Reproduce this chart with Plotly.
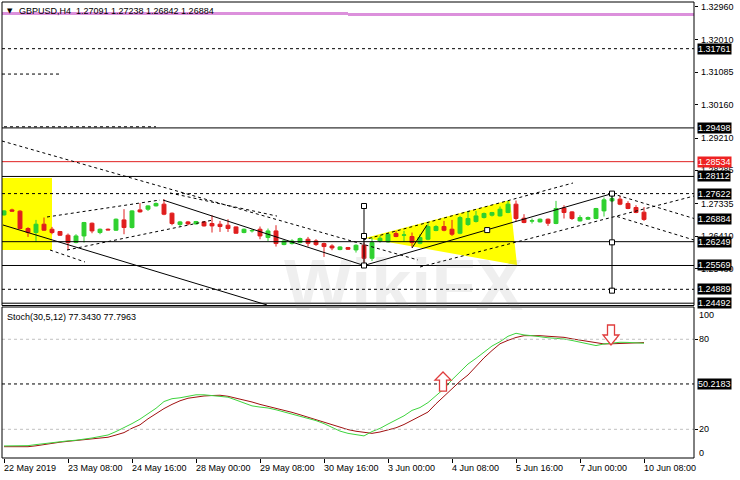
import plotly.graph_objects as go

# ---------------- data ----------------
bars = list(range(81))
open_ = [1.27014,1.27157,1.27120,1.26625,1.26510,1.26748,1.26605,1.26539,1.26433,1.26224,
         1.26413,1.26776,1.26510,1.26605,1.26576,1.26871,1.26653,1.27157,1.27177,1.27271,
         1.27320,1.27062,1.26739,1.26814,1.26756,1.26814,1.26768,1.26748,1.26719,1.26671,
         1.26510,1.26556,1.26605,1.26367,1.26556,1.26167,1.26196,1.26224,1.26319,1.26270,
         1.26196,1.26127,1.26024,1.26081,1.26013,1.26147,1.25775,1.26270,1.26242,1.26482,
         1.26433,1.26396,1.26204,1.26319,1.26568,1.26682,1.26605,1.26490,1.26739,1.26825,
         1.26939,1.27005,1.26985,1.27082,1.27320,1.26919,1.26836,1.26814,1.26891,1.26768,
         1.27214,1.27100,1.26842,1.26891,1.26911,1.27128,1.27414,1.27463,1.27340,1.27225,
         1.27091]
high_ = [1.27148,1.27191,1.27148,1.26662,1.26871,1.26939,1.26671,1.26556,1.26482,1.26462,
         1.26814,1.26796,1.26625,1.26625,1.26911,1.27177,1.27148,1.27350,1.27291,1.27368,
         1.27463,1.27082,1.26842,1.26842,1.26842,1.26833,1.27005,1.26842,1.26891,1.26682,
         1.26625,1.26605,1.26682,1.26625,1.26719,1.26290,1.26319,1.26367,1.26385,1.26319,
         1.26224,1.26175,1.26119,1.26099,1.26175,1.26224,1.26367,1.26413,1.26482,1.26556,
         1.26556,1.26510,1.26462,1.26776,1.26719,1.26842,1.26871,1.26985,1.27128,1.27128,
         1.27082,1.27100,1.27254,1.27414,1.27425,1.27034,1.26911,1.26911,1.26911,1.27414,
         1.27291,1.27120,1.27005,1.26968,1.27214,1.27511,1.27622,1.27557,1.27405,1.27291,
         1.27238]
low_ = [1.26990,1.27105,1.26605,1.26385,1.26242,1.26556,1.26462,1.26413,1.26013,1.26204,
        1.26224,1.26490,1.26462,1.26576,1.26556,1.26462,1.26625,1.27082,1.27128,1.27254,
        1.27005,1.26719,1.26682,1.26719,1.26739,1.26682,1.26510,1.26528,1.26528,1.26482,
        1.26490,1.26510,1.26319,1.26270,1.26110,1.26147,1.26167,1.26204,1.26110,1.26127,
        1.25813,1.26005,1.26005,1.26013,1.25938,1.25569,1.25698,1.26224,1.26224,1.26376,
        1.26242,1.26081,1.26175,1.26290,1.26547,1.26547,1.26413,1.26462,1.26699,1.26796,
        1.26911,1.26968,1.26968,1.27062,1.26825,1.26776,1.26768,1.26796,1.26699,1.26748,
        1.26911,1.26871,1.26825,1.26871,1.26891,1.26968,1.27377,1.27291,1.27177,1.27062,
        1.26842]
close_ = [1.27128,1.27120,1.26625,1.26510,1.26748,1.26576,1.26510,1.26433,1.26224,1.26413,
          1.26796,1.26556,1.26605,1.26585,1.26891,1.26653,1.27128,1.27100,1.27271,1.27340,
          1.27034,1.26768,1.26814,1.26756,1.26825,1.26699,1.26699,1.26682,1.26625,1.26490,
          1.26605,1.26568,1.26413,1.26556,1.26196,1.26270,1.26270,1.26339,1.26204,1.26167,
          1.26110,1.26070,1.26099,1.26033,1.26147,1.25775,1.26224,1.26347,1.26462,1.26396,
          1.26442,1.26224,1.26367,1.26682,1.26682,1.26576,1.26462,1.26939,1.26911,1.26985,
          1.27054,1.27082,1.27177,1.27320,1.26911,1.26796,1.26848,1.26891,1.26776,1.27197,
          1.27082,1.26911,1.26939,1.26939,1.27197,1.27443,1.27483,1.27320,1.27197,1.27082,
          1.26884]

stoch_main = [8.9,9.0,9.0,9.1,9.8,10.5,11.4,12.0,12.3,12.7,
              13.3,14.2,15.2,16.2,18.5,21.0,23.8,26.8,30.5,34.0,
              38.5,40.4,41.0,42.0,43.0,43.0,42.5,42.1,41.4,39.5,
              37.6,35.6,34.8,34.2,33.0,31.6,30.2,28.8,27.3,25.8,
              23.8,21.3,18.8,17.3,16.5,15.6,18.5,20.6,23.5,26.3,
              29.0,32.6,34.5,37.8,42.5,47.0,53.0,58.5,63.5,67.3,
              71.5,75.5,78.4,82.0,84.0,82.9,82.4,81.5,81.0,80.6,
              80.2,79.2,78.0,76.8,75.8,76.9,77.6,78.0,77.9,77.8,
              77.343]
stoch_signal = [8.4,8.4,8.4,8.4,9.0,9.9,10.8,11.4,12.0,12.5,
                13.0,13.5,14.1,14.7,16.2,17.8,20.7,23.0,27.0,30.5,
                33.8,36.6,39.0,40.7,41.5,42.2,42.5,42.7,42.0,40.8,
                39.6,38.2,36.6,35.4,34.1,32.8,31.3,29.7,28.0,26.3,
                24.6,22.9,21.3,19.8,18.7,17.8,17.3,18.2,19.4,21.0,
                23.2,26.0,28.9,31.5,37.0,42.0,47.0,52.0,56.2,62.0,
                67.6,72.5,77.0,79.3,81.2,82.4,82.5,82.4,82.0,81.6,
                81.3,80.3,79.4,78.6,77.9,76.9,77.0,77.3,77.6,77.8,
                77.7963]

tick_bars = [0, 8, 16, 24, 32, 40, 48, 56, 64, 72, 80]
tick_text = ["22 May 2019", "23 May 08:00", "24 May 16:00", "28 May 00:00", "29 May 08:00",
             "30 May 16:00", "3 Jun 00:00", "4 Jun 08:00", "5 Jun 16:00", "7 Jun 00:00", "10 Jun 08:00"]

price_ticks = [1.32960, 1.32010, 1.31085, 1.30160, 1.29210, 1.28285, 1.27335, 1.26410, 1.25480]
solid_levels = [1.29498, 1.28112, 1.26249, 1.25569, 1.24492]
dashed_levels = [1.31761, 1.27622, 1.24889]
red_level = 1.28534
box_levels = [1.31761, 1.29498, 1.28112, 1.27622, 1.26884, 1.26249, 1.25569, 1.24889, 1.24492]
pink_levels = [1.32766, 1.32737]
stoch_level = 50.2183

# drawn objects (bar index, price)
dashed_trend = [
    (-0.25, 1.29124, 51.75, 1.25726),
    (5.75, 1.26011, 10.125, 1.25669),
    (5.375, 1.26954, 19.5, 1.27439),
    (7.875, 1.26011, 26.125, 1.26868),
    (20.75, 1.27640, 34.125, 1.26980),
    (44.875, 1.26297, 71.125, 1.27925),
    (52.0, 1.25526, 86.25, 1.27553),
    (76.0, 1.27622, 86.25, 1.26911),
    (76.625, 1.26968, 86.25, 1.26297),
    (-0.25, 1.31036, 7.0, 1.31036),
    (0.0, 1.29530, 19.0, 1.29530),
]
solid_trend = [
    (-0.125, 1.26725, 32.875, 1.24441),
    (19.875, 1.27439, 45.0, 1.25569),
    (45.0, 1.25569, 76.0, 1.27622),
    (51.0, 1.26068, 52.875, 1.26725),
    (45.0, 1.27268, 45.0, 1.25569),
    (76.0, 1.27622, 76.0, 1.24850),
]
marker_boxes = [(45.0, 1.27268), (45.0, 1.26411), (45.0, 1.25569), (60.4, 1.26580),
                (76.0, 1.27622), (76.0, 1.26230), (76.0, 1.24850)]
yellow_rect = (-0.25, 1.28068, 6.0, 1.26011)
yellow_tri = [(45.125, 1.26354), (63.25, 1.27439), (64.125, 1.25583)]

# ---------------- figure ----------------
GREEN = "#2fd12f"
RED = "#e01e1e"
FONT = "Liberation Sans, Arial, sans-serif"
MAIN_DOM = [0.3344, 1.0]
STO_DOM = [0.0, 0.3311]

fig = go.Figure()
fig.add_trace(go.Candlestick(
    x=bars, open=open_, high=high_, low=low_, close=close_,
    increasing=dict(line=dict(color=GREEN, width=1), fillcolor=GREEN),
    decreasing=dict(line=dict(color=RED, width=1), fillcolor=RED),
    whiskerwidth=0, showlegend=False, hoverinfo="skip", xaxis="x", yaxis="y"))
fig.add_trace(go.Scatter(x=bars, y=stoch_signal, mode="lines", line=dict(color="#a01010", width=1),
                         showlegend=False, hoverinfo="skip", xaxis="x", yaxis="y2"))
fig.add_trace(go.Scatter(x=bars, y=stoch_main, mode="lines", line=dict(color="#3ed43e", width=1),
                         showlegend=False, hoverinfo="skip", xaxis="x", yaxis="y2"))

shapes = []
x0, y0, x1, y1 = yellow_rect
shapes.append(dict(type="rect", xref="x", yref="y", x0=x0, x1=x1, y0=y0, y1=y1,
                   fillcolor="#ffff00", line=dict(width=0), layer="below"))
p = yellow_tri
shapes.append(dict(type="path", xref="x", yref="y",
                   path=f"M {p[0][0]},{p[0][1]} L {p[1][0]},{p[1][1]} L {p[2][0]},{p[2][1]} Z",
                   fillcolor="#ffff00", line=dict(width=0), layer="below"))

def hline(level, color="black", dash="solid", width=1, yref="y"):
    return dict(type="line", xref="paper", yref=yref, x0=0, x1=1, y0=level, y1=level,
                line=dict(color=color, width=width, dash=dash), layer="above")

shapes.append(dict(type="line", xref="paper", yref="y", x0=0, x1=0.5, y0=pink_levels[0], y1=pink_levels[0],
                   line=dict(color="#dc90dc", width=3)))
shapes.append(dict(type="line", xref="paper", yref="y", x0=0.5, x1=1, y0=pink_levels[1], y1=pink_levels[1],
                   line=dict(color="#dc90dc", width=3)))
for lv in solid_levels:
    shapes.append(hline(lv))
for lv in dashed_levels:
    shapes.append(hline(lv, dash="3px,3px"))
shapes.append(hline(red_level, color="#e02020"))
for (a, b, c, d) in dashed_trend:
    shapes.append(dict(type="line", xref="x", yref="y", x0=a, y0=b, x1=c, y1=d,
                       line=dict(color="black", width=1, dash="3px,3px")))
for (a, b, c, d) in solid_trend:
    shapes.append(dict(type="line", xref="x", yref="y", x0=a, y0=b, x1=c, y1=d,
                       line=dict(color="black", width=1)))
for (a, b) in marker_boxes:
    shapes.append(dict(type="rect", xref="x", yref="y", xsizemode="pixel", ysizemode="pixel",
                       xanchor=a, yanchor=b, x0=-2.5, x1=2.5, y0=-2.5, y1=2.5,
                       fillcolor="white", line=dict(color="black", width=1)))
shapes.append(hline(80, color="#c0c0c0", dash="3px,3px", yref="y2"))
shapes.append(hline(20, color="#c0c0c0", dash="3px,3px", yref="y2"))
shapes.append(hline(stoch_level, dash="3px,3px", yref="y2"))
shapes.append(dict(type="path", xref="x", yref="y2", xsizemode="pixel", ysizemode="pixel",
                   xanchor=54.875, yanchor=45.5,
                   path="M -3.5,0 L 3.5,0 L 3.5,11 L 8,11 L 0,19 L -8,11 L -3.5,11 Z",
                   fillcolor="white", line=dict(color="#e03c3c", width=1.3)))
shapes.append(dict(type="path", xref="x", yref="y2", xsizemode="pixel", ysizemode="pixel",
                   xanchor=75.875, yanchor=89.5,
                   path="M -3.5,0 L 3.5,0 L 3.5,-10 L 8,-10 L 0,-20 L -8,-10 L -3.5,-10 Z",
                   fillcolor="white", line=dict(color="#e03c3c", width=1.3)))
shapes.append(dict(type="rect", xref="paper", yref="paper", x0=0, x1=1, y0=MAIN_DOM[0], y1=MAIN_DOM[1],
                   line=dict(color="black", width=1)))
shapes.append(dict(type="rect", xref="paper", yref="paper", x0=0, x1=1, y0=STO_DOM[0], y1=STO_DOM[1],
                   line=dict(color="black", width=1)))

ann = []
ann.append(dict(xref="paper", yref="paper", x=0.58, y=0.38, text="<b>WikiFX</b>", showarrow=False,
                font=dict(family=FONT, size=72, color="rgba(130,130,130,0.13)")))
ann.append(dict(xref="paper", yref="paper", x=0.004, y=0.980, xanchor="left", yanchor="middle",
                text="▼", showarrow=False, font=dict(family="DejaVu Sans", size=7, color="black")))
ann.append(dict(xref="paper", yref="paper", x=0.0215, y=0.980, xanchor="left", yanchor="middle",
                text="GBPUSD,H4  1.27091 1.27238 1.26842 1.26884", showarrow=False,
                font=dict(family=FONT, size=9, color="black")))
ann.append(dict(xref="paper", yref="paper", x=0.005, y=0.309, xanchor="left", yanchor="middle",
                text="Stoch(30,5,12) 77.3430 77.7963", showarrow=False,
                font=dict(family=FONT, size=9, color="black")))
for pt in price_ticks:
    ann.append(dict(xref="paper", yref="y", x=1, y=pt, xanchor="left", yanchor="middle", xshift=5,
                    text=f"{pt:.5f}", showarrow=False, font=dict(family=FONT, size=9, color="black")))
for lv in box_levels:
    ann.append(dict(xref="paper", yref="y", x=1, y=lv, xanchor="left", yanchor="middle", xshift=3,
                    text=f"{lv:.5f}", showarrow=False, bgcolor="black", borderpad=0,
                    font=dict(family=FONT, size=9, color="white")))
ann.append(dict(xref="paper", yref="y", x=1, y=red_level, xanchor="left", yanchor="middle", xshift=3,
                text=f"{red_level:.5f}", showarrow=False, bgcolor="#ee2222", borderpad=0,
                font=dict(family=FONT, size=9, color="white")))
for txt, v in [("100", 96.2), ("80", 80), ("20", 20), ("0", 4.4)]:
    ann.append(dict(xref="paper", yref="y2", x=1, y=v, xanchor="left", yanchor="middle", xshift=3,
                    text=txt, showarrow=False, font=dict(family=FONT, size=9, color="black")))
ann.append(dict(xref="paper", yref="y2", x=1, y=stoch_level, xanchor="left", yanchor="middle", xshift=3,
                text=f"{stoch_level:.4f}", showarrow=False, bgcolor="black", borderpad=0,
                font=dict(family=FONT, size=9, color="white")))
for b, t in zip(tick_bars, tick_text):
    ann.append(dict(xref="x", yref="paper", x=b, y=0, xanchor="left", yanchor="top", xshift=-2, yshift=-3,
                    text=t, showarrow=False, font=dict(family=FONT, size=9, color="black")))

fig.update_layout(
    width=740, height=480, autosize=False,
    margin=dict(l=2, r=46, t=2, b=22),
    paper_bgcolor="white", plot_bgcolor="white",
    showlegend=False, shapes=shapes, annotations=ann,
    xaxis=dict(range=[-0.25, 86.25], showgrid=False, zeroline=False, showline=False,
               tickvals=tick_bars, ticks="outside", ticklen=4, tickcolor="black",
               showticklabels=False, anchor="y2", rangeslider=dict(visible=False)),
    yaxis=dict(domain=MAIN_DOM, range=[1.24426, 1.33094], side="right", showgrid=False, zeroline=False,
               tickvals=price_ticks, ticks="outside", ticklen=3, tickcolor="black",
               showticklabels=False, anchor="x"),
    yaxis2=dict(domain=STO_DOM, range=[0.87, 101.5], side="right", showgrid=False, zeroline=False,
                tickvals=[20, 80], ticks="outside", ticklen=3, tickcolor="black",
                showticklabels=False, anchor="x"),
)

fig.write_html("out.html", config={"displayModeBar": False},
               post_script="document.body.style.margin='0px';")
